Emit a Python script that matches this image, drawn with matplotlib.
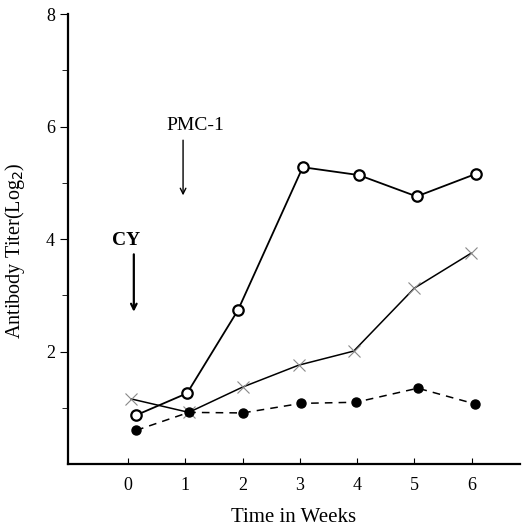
import matplotlib
matplotlib.use("Agg")
import matplotlib.pyplot as plt

plt.rcParams['font.family'] = ['Liberation Serif', 'DejaVu Serif']

# open circles (solid line)
x_open = [0.14, 1.03, 1.92, 3.05, 4.03, 5.04, 6.07]
y_open = [0.87, 1.26, 2.74, 5.28, 5.14, 4.76, 5.16]
# crosses (solid line)
x_cross = [0.05, 1.06, 2.0, 2.98, 3.94, 5.0, 5.99]
y_cross = [1.16, 0.92, 1.37, 1.76, 2.01, 3.13, 3.75]
# filled circles (dashed line)
x_fill = [0.14, 1.06, 2.0, 3.02, 3.98, 5.06, 6.06]
y_fill = [0.60, 0.92, 0.91, 1.08, 1.10, 1.35, 1.07]

weeks = [0, 1, 2, 3, 4, 5, 6]
ymajor = [2, 4, 6, 8]
yminor = [1, 3, 5, 7]

fig = plt.figure(figsize=(5.29, 5.28), dpi=100)
ax = fig.add_axes([0.1285, 0.121, 0.854, 0.852])

ax.plot(x_open, y_open, '-', color='black', lw=1.3, marker='o', ms=7.5,
        mfc='white', mec='black', mew=1.6)
ax.plot(x_cross, y_cross, '-', color='black', lw=1.1, marker='x', ms=8,
        mec='#888888', mew=0.8)
ax.plot(x_fill, y_fill, '--', color='black', lw=1.1, dashes=(5, 4),
        marker='o', ms=6.5, mfc='black', mec='black')

# arrows
ax.annotate('', xy=(0.1, 2.66), xytext=(0.1, 3.78),
            arrowprops=dict(arrowstyle='->', color='black', lw=1.6))
ax.text(-0.03, 3.98, 'CY', ha='center', va='center', fontsize=14,
        fontweight='bold')
ax.annotate('', xy=(0.96, 4.73), xytext=(0.96, 5.81),
            arrowprops=dict(arrowstyle='->', color='black', lw=1.0))
ax.text(1.17, 6.03, 'PMC-1', ha='center', va='center', fontsize=14)

ax.set_xlim(-1.05, 6.84)
ax.set_ylim(0, 8)
ax.set_xticks(weeks)
ax.set_yticks(ymajor)
ax.set_yticks(yminor, minor=True)
ax.tick_params(axis='x', direction='in', length=4, labelsize=13, pad=9)
ax.tick_params(axis='y', which='major', direction='out', length=6, labelsize=13)
ax.tick_params(axis='y', which='minor', direction='out', length=4)

for s in ['top', 'right']:
    ax.spines[s].set_visible(False)
ax.spines['left'].set_linewidth(1.6)
ax.spines['bottom'].set_linewidth(1.6)

ax.set_xlabel('Time in Weeks', fontsize=15, labelpad=10)
ax.set_ylabel('Antibody Titer(Log$_2$)', fontsize=14.5)
ax.yaxis.set_label_coords(-0.09, 0.475)

fig.savefig('out.png', dpi=100)
